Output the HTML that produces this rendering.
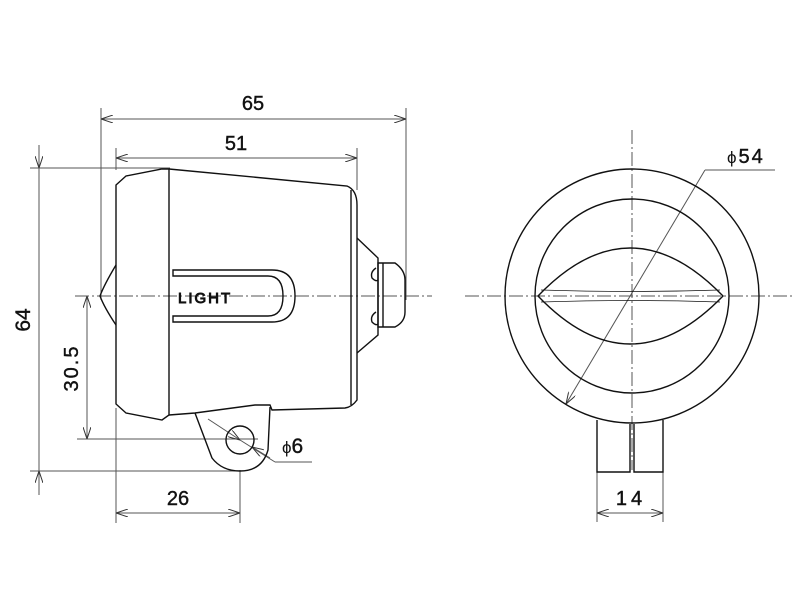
<!DOCTYPE html>
<html><head><meta charset="utf-8"><style>
html,body{margin:0;padding:0;background:#fff;}
svg{display:block;}
text{font-family:"Liberation Sans",Arial,sans-serif;fill:#111;}
</style></head><body>
<svg width="800" height="600" viewBox="0 0 800 600" xmlns="http://www.w3.org/2000/svg">
<defs>
<marker id="a" viewBox="0 0 12 8" refX="12" refY="4" markerWidth="12" markerHeight="8" orient="auto-start-reverse" markerUnits="userSpaceOnUse">
<path d="M0,0 L12,4 L0,8" fill="none" stroke="#333" stroke-width="1"/></marker>
</defs>
<g fill="none" stroke="#555" stroke-width="1">
<line x1="75" y1="296" x2="432" y2="296" stroke-dasharray="14,3,2,3"/>
<line x1="465" y1="296" x2="792" y2="296" stroke-dasharray="14,3,2,3"/>
<line x1="632" y1="130" x2="632" y2="470" stroke-dasharray="14,3,2,3"/>
<line x1="101" y1="108" x2="101" y2="300"/>
<line x1="406" y1="108" x2="406" y2="300"/>
<line x1="116" y1="148" x2="116" y2="170"/>
<line x1="357" y1="148" x2="357" y2="190"/>
<line x1="30" y1="168" x2="170" y2="168"/>
<line x1="30" y1="471" x2="240" y2="471"/>
<line x1="77" y1="439" x2="258" y2="439"/>
<line x1="116" y1="408" x2="116" y2="523"/>
<line x1="240" y1="470" x2="240" y2="523"/>
<line x1="597" y1="472" x2="597" y2="522"/>
<line x1="663" y1="472" x2="663" y2="522"/>
<line x1="101" y1="119" x2="406" y2="119" marker-start="url(#a)" marker-end="url(#a)"/>
<line x1="116" y1="158" x2="357" y2="158" marker-start="url(#a)" marker-end="url(#a)"/>
<line x1="39" y1="145" x2="39" y2="168" marker-end="url(#a)"/>
<line x1="39" y1="168" x2="39" y2="471"/>
<line x1="39" y1="495" x2="39" y2="471" marker-end="url(#a)"/>
<line x1="87" y1="296" x2="87" y2="439" marker-start="url(#a)" marker-end="url(#a)"/>
<line x1="116" y1="513" x2="240" y2="513" marker-start="url(#a)" marker-end="url(#a)"/>
<line x1="597" y1="513" x2="663" y2="513" marker-start="url(#a)" marker-end="url(#a)"/>
<line x1="208" y1="419" x2="240" y2="440" marker-end="url(#a)"/>
<line x1="240" y1="440" x2="275" y2="462"/>
<line x1="270" y1="458" x2="252" y2="447" marker-end="url(#a)"/>
<line x1="275" y1="462" x2="312" y2="462"/>
<line x1="566" y1="404" x2="705" y2="170" marker-start="url(#a)"/>
<line x1="705" y1="170" x2="775" y2="170"/>
</g>
<g fill="none" stroke="#111" stroke-width="1.4">
<path d="M116,185 L126,176 L162,169 L169,169 L169,415 L162,420 L126,413 L116,404 Z"/>
<path d="M116,265 Q104,285 100,296 Q104,307 116,325"/>
<path d="M169,169 L347,186 Q357,190 357,205 L357,400 Q352,407 345,408 L272,410 L270,405 L255,405 L195,413 L169,415"/>
<line x1="351" y1="190" x2="351" y2="405"/>
<path d="M357,238 L378,258 L378,335 L357,353"/>
<path d="M378,263 L395,263 Q405,270 405,280 L405,312 Q405,322 395,327 L378,327 Z"/>
<line x1="383" y1="263" x2="383" y2="327"/>
<path d="M376,268 Q370,272 372,278 Q376,282 378,280"/>
<path d="M376,312 Q370,316 372,322 Q376,326 378,324"/>
<path d="M173,270 L272,270 Q295,270 295,296 Q295,322 272,322 L173,322 L173,316 L268,316 Q283,316 283,296 Q283,276 268,276 L173,276 Z"/>
<path d="M195,413 L212,458 Q222,471 240,471 Q262,471 268,450 L270,407"/>
<circle cx="240" cy="440" r="14"/>
<circle cx="632" cy="296" r="127"/>
<circle cx="632" cy="296" r="97"/>
<path d="M538,296 Q630,200 723,296 Q630,392 538,296 Z"/>
<path d="M541,290 Q632,293 720,290 M541,302 Q632,299 720,302" stroke-width="0.8"/>
<path d="M597,420 L597,472 L630,472 L630,424 M634,424 L634,472 L663,472 L663,420"/>
</g>
<g stroke="none">
<text x="178" y="303" font-size="15" fill="none" stroke="#111" stroke-width="0.9" letter-spacing="2">LIGHT</text>
<text x="253" y="110" font-size="20" text-anchor="middle" stroke="#111" stroke-width="0.4">65</text>
<text x="236" y="150" font-size="20" text-anchor="middle" stroke="#111" stroke-width="0.4">51</text>
<text x="178" y="505" font-size="20" text-anchor="middle" stroke="#111" stroke-width="0.4">26</text>
<text x="631" y="505" font-size="20" text-anchor="middle" letter-spacing="4" stroke="#111" stroke-width="0.4">14</text>
<text x="282" y="453" font-size="21" stroke="#111" stroke-width="0.4"><tspan font-size="17" stroke-width="0">ϕ</tspan>6</text>
<text x="727" y="163" font-size="20" letter-spacing="2" stroke="#111" stroke-width="0.4"><tspan font-size="17" stroke-width="0">ϕ</tspan>54</text>
<text transform="translate(30,320) rotate(-90)" font-size="21" text-anchor="middle" stroke="#111" stroke-width="0.4">64</text>
<text transform="translate(78,368) rotate(-90)" font-size="20" text-anchor="middle" letter-spacing="2" stroke="#111" stroke-width="0.4">30.5</text>
</g>
</svg>
</body></html>
